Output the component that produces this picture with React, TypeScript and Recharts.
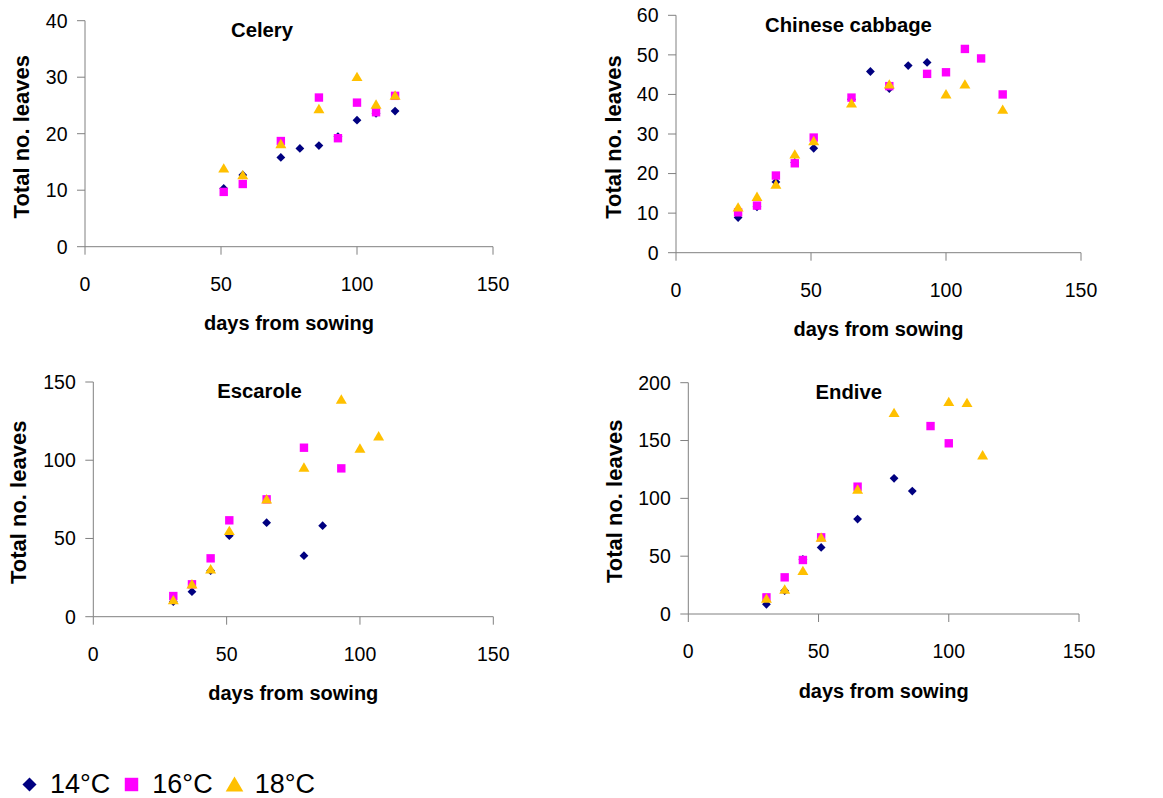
import { Legend, Scatter, ScatterChart, XAxis, YAxis } from 'recharts'

const FONT = '"Liberation Sans", Arial, Helvetica, sans-serif'
const AXIS_GREY = '#808080'
const X_AXIS_HEIGHT = 100

const seriesNames = ['14°C', '16°C', '18°C']
const seriesColors = ['#000080', '#ff00ff', '#ffc000']

const dayTicks = [0, 50, 100, 150]

// Celery
const celeryDays = [51, 58, 72, 79, 86, 93, 100, 107, 114]
const celery14 = [10.3, 12.7, 15.8, 17.4, 17.9, 19.5, 22.4, 23.6, 24.0]
const celery16 = [9.7, 11.1, 18.7, null, 26.4, 19.2, 25.5, 23.8, 26.7]
const celery18 = [13.9, 12.7, 18.2, null, 24.4, null, 30.1, 25.2, 26.8]
const celeryTicks = [0, 10, 20, 30, 40]

// Chinese cabbage
const cabbageDays = [23, 30, 37, 44, 51, 65, 72, 79, 86, 93, 100, 107, 113, 121]
const cabbage14 = [8.9, 11.6, 17.9, 22.8, 26.4, 38.8, 45.8, 41.5, 47.3, 48.1, null, null, null, null]
const cabbage16 = [10.2, 11.9, 19.5, 22.6, 29.1, 39.2, null, 42.1, null, 45.2, 45.6, 51.5, 49.1, 40.0]
const cabbage18 = [11.5, 14.2, 17.3, 24.9, 28.3, 37.8, null, 42.6, null, null, 40.1, 42.6, null, 36.2]
const cabbageTicks = [0, 10, 20, 30, 40, 50, 60]

// Escarole
const escaroleDays = [30, 37, 44, 51, 65, 79, 86, 93, 100, 107]
const escarole14 = [9.6, 16.0, 29.4, 51.8, 60.1, 39.0, 58.2, null, null, null]
const escarole16 = [13.2, 20.7, 37.3, 61.6, 75.0, 108.0, null, 94.8, null, null]
const escarole18 = [10.7, 20.9, 30.5, 55.0, 75.2, 95.5, null, 138.9, 107.6, 115.5]
const escaroleTicks = [0, 50, 100, 150]

// Endive
const endiveDays = [30, 37, 44, 51, 65, 79, 86, 93, 100, 107, 113]
const endive14 = [8.4, 20.2, 47.3, 57.6, 82.1, 117.3, 106.3, null, null, null, null]
const endive16 = [14.4, 31.7, 46.7, 66.3, 110.1, null, null, 162.5, 147.6, null, null]
const endive18 = [13.5, 21.3, 37.5, 66.3, 107.8, 174.1, null, null, 183.6, 182.7, 137.5]
const endiveTicks = [0, 50, 100, 150, 200]

type Value = number | null

function toPoints(days: number[], values: Value[]) {
  return days.flatMap((day, i) => (values[i] == null ? [] : [{ day, leaves: values[i] as number }]))
}

// page-space layout of each panel: chart box, plot area, title spot
const panels = [
  {
    title: 'Celery',
    days: celeryDays,
    series: [celery14, celery16, celery18],
    yTicks: celeryTicks,
    box: { left: 0, top: 0, width: 580, height: 360 },
    plot: { L: 85, R: 493, T: 20.7, B: 246.7 },
    yTitleGap: 56.3,
    titlePos: { x: 262, y: 36.5 },
  },
  {
    title: 'Chinese cabbage',
    days: cabbageDays,
    series: [cabbage14, cabbage16, cabbage18],
    yTicks: cabbageTicks,
    box: { left: 580, top: 0, width: 583, height: 360 },
    plot: { L: 676, R: 1081, T: 15.3, B: 252.7 },
    yTitleGap: 55.3,
    titlePos: { x: 848.5, y: 31.7 },
  },
  {
    title: 'Escarole',
    days: escaroleDays,
    series: [escarole14, escarole16, escarole18],
    yTicks: escaroleTicks,
    box: { left: 0, top: 360, width: 580, height: 438 },
    plot: { L: 93.3, R: 493.3, T: 382, B: 616.7 },
    yTitleGap: 67.3,
    titlePos: { x: 259.5, y: 397.7 },
  },
  {
    title: 'Endive',
    days: endiveDays,
    series: [endive14, endive16, endive18],
    yTicks: endiveTicks,
    box: { left: 580, top: 360, width: 583, height: 365 },
    plot: { L: 688.3, R: 1079, T: 382.7, B: 614 },
    yTitleGap: 66.3,
    titlePos: { x: 848.8, y: 399 },
  },
]

function markerPath(index: number, cx: number, cy: number, scale = 1) {
  if (index === 0) {
    const r = 4.4 * scale
    return `M${cx},${cy - r}L${cx + r},${cy}L${cx},${cy + r}L${cx - r},${cy}Z`
  }
  if (index === 1) {
    const h = 4.2 * scale
    return `M${cx - h},${cy - h}H${cx + h}V${cy + h}H${cx - h}Z`
  }
  const w = 5.5 * scale
  const up = 5 * scale
  const down = 4.4 * scale
  return `M${cx},${cy - up}L${cx + w},${cy + down}L${cx - w},${cy + down}Z`
}

function makeShape(index: number) {
  return (props: any) => {
    const { cx, cy } = props
    if (cx == null || cy == null) return <g />
    return <path d={markerPath(index, cx, cy)} fill={seriesColors[index]} />
  }
}

const shapes = seriesNames.map((_, i) => makeShape(i))

function XTitle(props: any) {
  const vb = props.viewBox
  if (!vb) return null
  return (
    <text
      x={vb.x + vb.width / 2}
      y={vb.y + 83.5}
      textAnchor="middle"
      fontFamily={FONT}
      fontSize={20}
      fontWeight="bold"
      fill="#000"
    >
      days from sowing
    </text>
  )
}

function makeYTitle(gap: number) {
  return (props: any) => {
    const vb = props.viewBox
    if (!vb) return null
    const x = vb.x + vb.width - gap
    const y = vb.y + vb.height / 2 + 3
    return (
      <text
        x={x}
        y={y}
        transform={`rotate(-90, ${x}, ${y})`}
        textAnchor="middle"
        fontFamily={FONT}
        fontSize={22}
        fontWeight="bold"
        fill="#000"
      >
        Total no. leaves
      </text>
    )
  }
}

function LegendContent(props: any) {
  const payload: any[] = props.payload ?? []
  return (
    <div
      style={{
        display: 'flex',
        alignItems: 'center',
        fontFamily: FONT,
        fontSize: 27,
        lineHeight: '27px',
        color: '#000',
      }}
    >
      {payload.map((entry) => {
        const i = seriesNames.indexOf(entry.value)
        return (
          <div key={entry.value} style={{ display: 'flex', alignItems: 'center', marginRight: 14 }}>
            <svg width={15} height={15} style={{ marginRight: 13, overflow: 'visible' }}>
              <path d={markerPath(i, 7.5, 7.5, 1.6)} fill={seriesColors[i]} />
            </svg>
            <span>{entry.value}</span>
          </div>
        )
      })}
    </div>
  )
}

const tickStyle = { fill: '#000', fontSize: 19.5, fontFamily: FONT }

function Panel({ panel, withLegend }: { panel: (typeof panels)[number]; withLegend: boolean }) {
  const { box, plot } = panel
  const margin = {
    top: plot.T - box.top,
    right: box.left + box.width - plot.R,
    left: 0,
    bottom: box.top + box.height - plot.B - X_AXIS_HEIGHT,
  }
  const yMax = panel.yTicks[panel.yTicks.length - 1]
  return (
    <div style={{ position: 'absolute', left: box.left, top: box.top, width: box.width, height: box.height }}>
      <ScatterChart width={box.width} height={box.height} margin={margin}>
        <XAxis
          type="number"
          dataKey="day"
          domain={[0, 150]}
          ticks={dayTicks}
          interval={0}
          height={X_AXIS_HEIGHT}
          tickSize={8}
          tickMargin={22}
          axisLine={{ stroke: AXIS_GREY }}
          tickLine={{ stroke: AXIS_GREY }}
          tick={tickStyle}
          label={{ content: XTitle }}
        />
        <YAxis
          type="number"
          dataKey="leaves"
          domain={[0, yMax]}
          ticks={panel.yTicks}
          interval={0}
          width={plot.L - box.left}
          tickSize={8}
          tickMargin={9.5}
          axisLine={{ stroke: AXIS_GREY }}
          tickLine={{ stroke: AXIS_GREY }}
          tick={tickStyle}
          label={{ content: makeYTitle(panel.yTitleGap) }}
        />
        {panel.series.map((values, i) => (
          <Scatter
            key={seriesNames[i]}
            name={seriesNames[i]}
            data={toPoints(panel.days, values)}
            fill={seriesColors[i]}
            shape={shapes[i]}
            isAnimationActive={false}
          />
        ))}
        {withLegend && (
          <Legend
            layout="horizontal"
            verticalAlign="middle"
            align="center"
            content={LegendContent}
            wrapperStyle={{ left: 22, top: 410.5, width: 420, height: 30 }}
          />
        )}
      </ScatterChart>
      <svg
        width={box.width}
        height={60}
        style={{ position: 'absolute', left: 0, top: 0, pointerEvents: 'none' }}
      >
        <text
          x={panel.titlePos.x - box.left}
          y={panel.titlePos.y - box.top}
          textAnchor="middle"
          fontFamily={FONT}
          fontSize={20.3}
          fontWeight="bold"
          fill="#000"
        >
          {panel.title}
        </text>
      </svg>
    </div>
  )
}

export default function App() {
  return (
    <div
      style={{
        position: 'absolute',
        left: 0,
        top: 0,
        width: 1163,
        height: 798,
        background: '#fff',
        overflow: 'hidden',
      }}
    >
      {panels.map((panel, i) => (
        <Panel key={panel.title} panel={panel} withLegend={i === 2} />
      ))}
    </div>
  )
}
